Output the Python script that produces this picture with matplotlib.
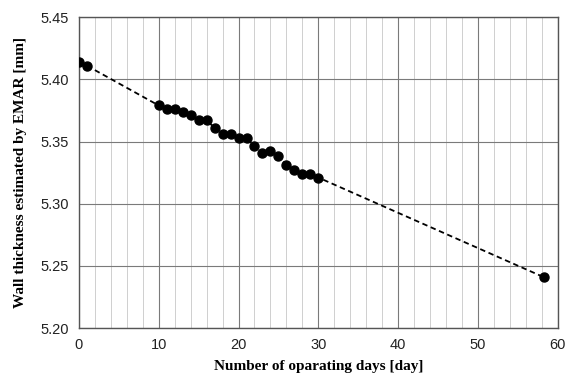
import matplotlib.pyplot as plt
from matplotlib.ticker import MultipleLocator

# operating days and EMAR wall thickness readings
days = [0, 1, 10, 11, 12, 13, 14, 15, 16, 17, 18, 19, 20, 21, 22, 23, 24, 25,
        26, 27, 28, 29, 30, 58.2]
thickness = [5.414, 5.411, 5.379, 5.376, 5.376, 5.374, 5.371, 5.367, 5.367,
             5.361, 5.356, 5.356, 5.353, 5.353, 5.346, 5.341, 5.342, 5.338,
             5.331, 5.327, 5.324, 5.324, 5.321, 5.241]

x_ticks = [0, 10, 20, 30, 40, 50, 60]
y_ticks = [5.20, 5.25, 5.30, 5.35, 5.40, 5.45]

fig, ax = plt.subplots(figsize=(5.67, 3.81), dpi=100)
fig.subplots_adjust(left=0.139, right=0.984, top=0.955, bottom=0.139)

ax.plot(days, thickness, color='black', linestyle=(0, (3, 2)), linewidth=1.3,
        marker='o', markersize=6.5, zorder=3)

ax.set_xlim(0, 60)
ax.set_ylim(5.20, 5.45)
ax.set_xticks(x_ticks)
ax.set_yticks(y_ticks)
ax.set_yticklabels([f'{v:.2f}' for v in y_ticks])
ax.xaxis.set_minor_locator(MultipleLocator(2))

ax.grid(which='major', color='#7a7a7a', linewidth=0.8)
ax.grid(which='minor', axis='x', color='#cfcfcf', linewidth=0.7)
ax.set_axisbelow(True)
ax.tick_params(which='both', length=0, labelsize=10.5, pad=7)
for lab in ax.get_xticklabels() + ax.get_yticklabels():
    lab.set_family('Liberation Sans')
    lab.set_color('#222222')
for s in ax.spines.values():
    s.set_color('#555555')
    s.set_linewidth(1.0)

ax.set_xlabel('Number of oparating days [day]', family='Liberation Serif',
              fontweight='bold', fontsize=11, labelpad=6)
ax.set_ylabel('Wall thickness estimated by EMAR [mm]', family='Liberation Serif',
              fontweight='bold', fontsize=11, labelpad=10)

fig.savefig('out.png', dpi=100)
